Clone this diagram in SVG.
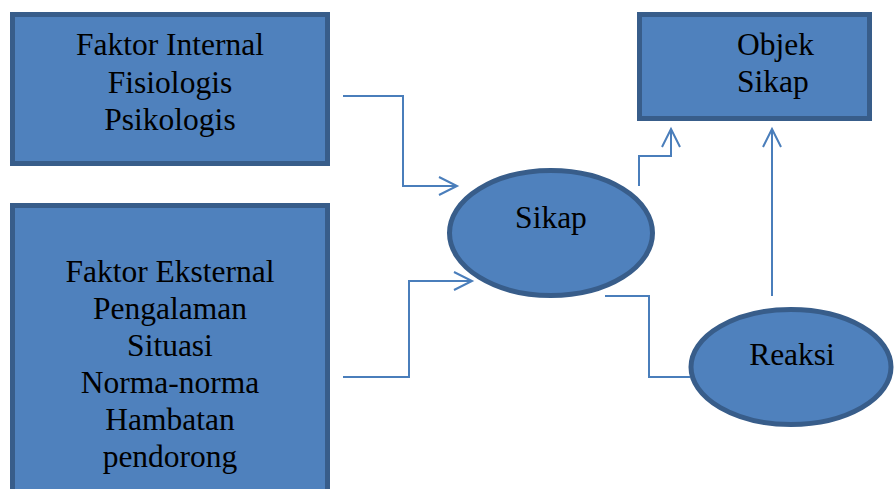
<svg xmlns="http://www.w3.org/2000/svg" width="894" height="489" viewBox="0 0 894 489" font-family="'Liberation Serif', 'DejaVu Serif', serif">
<style>
.node{fill:#4f81bd;stroke:#385d8a;stroke-width:5}
.lbl{font-family:'Liberation Serif','DejaVu Serif',serif;font-size:31.5px;fill:#000}
.c{text-anchor:middle}
.conn{fill:none;stroke:#4a7ebb;stroke-width:2}
</style>
<defs>
<marker id="arr" markerUnits="userSpaceOnUse" markerWidth="24" markerHeight="24" viewBox="-20 -12 24 24" refX="0" refY="0" orient="auto">
<path d="M-18,-9 L0,0 L-18,9" fill="none" stroke="#4a7ebb" stroke-width="2"/>
</marker>
</defs>
<g id="faktor-internal">
<rect class="node" x="12.5" y="14.5" width="315" height="149"/>
<text class="lbl c" x="170" y="55">Faktor Internal</text>
<text class="lbl c" x="170" y="93">Fisiologis</text>
<text class="lbl c" x="170" y="130">Psikologis</text>
</g>
<g id="faktor-eksternal">
<rect class="node" x="12.5" y="205.5" width="315" height="300"/>
<text class="lbl c" x="170" y="282">Faktor Eksternal</text>
<text class="lbl c" x="170" y="319">Pengalaman</text>
<text class="lbl c" x="170" y="356">Situasi</text>
<text class="lbl c" x="170" y="393">Norma-norma</text>
<text class="lbl c" x="170" y="430">Hambatan</text>
<text class="lbl c" x="170" y="467">pendorong</text>
</g>
<g id="objek-sikap">
<rect class="node" x="639.5" y="14.5" width="230" height="104"/>
<text class="lbl" x="737" y="55">Objek</text>
<text class="lbl" x="737" y="92">Sikap</text>
</g>
<g id="sikap">
<ellipse class="node" cx="551" cy="233" rx="101.5" ry="62.5"/>
<text class="lbl c" x="551" y="228">Sikap</text>
</g>
<g id="reaksi">
<ellipse class="node" cx="791" cy="367" rx="100" ry="57.5"/>
<text class="lbl c" x="792" y="365">Reaksi</text>
</g>
<g id="connectors">
<path class="conn" d="M343,96 H403 V186 H457" marker-end="url(#arr)"/>
<path class="conn" d="M343,377 H409 V281 H472" marker-end="url(#arr)"/>
<path class="conn" d="M605,296 H649 V377 H690"/>
<path class="conn" d="M639,186 V156 H671 V129" marker-end="url(#arr)"/>
<path class="conn" d="M772,296 V129" marker-end="url(#arr)"/>
</g>
</svg>
